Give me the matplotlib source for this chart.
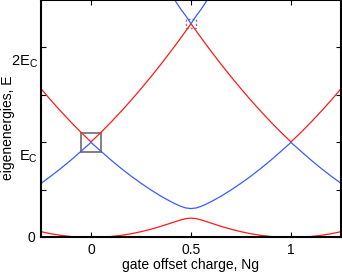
import matplotlib
matplotlib.use("Agg")
import matplotlib.pyplot as plt
from matplotlib.patches import Rectangle
import matplotlib.transforms as mtransforms

plt.rcParams['font.family'] = ['Liberation Sans', 'DejaVu Sans']
plt.rcParams['mathtext.fontset'] = 'custom'
plt.rcParams['mathtext.rm'] = 'Liberation Sans'
plt.rcParams['mathtext.it'] = 'Liberation Sans'

# gate charge and the four lowest levels (in units of E_C)
ng = [-0.25, -0.2, -0.15, -0.1, -0.05, 0.0, 0.05, 0.1, 0.15, 0.2, 0.25, 0.3, 0.35,
      0.4, 0.425, 0.45, 0.475, 0.5, 0.525, 0.55, 0.575, 0.6, 0.65, 0.7, 0.75, 0.8,
      0.85, 0.9, 0.95, 1.0, 1.05, 1.1, 1.15, 1.2, 1.25]
level0 = [0.056, 0.034, 0.017, 0.005, -0.003, -0.005, -0.003, 0.005, 0.017, 0.034, 0.056,
          0.082, 0.113, 0.147, 0.164, 0.181, 0.194, 0.199, 0.194, 0.181, 0.164, 0.147,
          0.113, 0.082, 0.056, 0.034, 0.017, 0.005, -0.003, -0.005, -0.003, 0.005, 0.017,
          0.034, 0.056]
level1 = [0.566, 0.643, 0.725, 0.812, 0.904, 0.998, 0.904, 0.812, 0.725, 0.643, 0.567,
          0.496, 0.430, 0.372, 0.346, 0.323, 0.306, 0.300, 0.306, 0.323, 0.346, 0.372,
          0.430, 0.496, 0.567, 0.643, 0.725, 0.812, 0.904, 0.998, 0.904, 0.812, 0.725,
          0.643, 0.566]
level2 = [1.564, 1.441, 1.324, 1.211, 1.104, 1.003, 1.104, 1.211, 1.324, 1.441, 1.564,
          1.691, 1.823, 1.961, 2.031, 2.103, 2.176, 2.250, 2.176, 2.103, 2.031, 1.961,
          1.823, 1.691, 1.564, 1.441, 1.324, 1.211, 1.104, 1.003, 1.104, 1.211, 1.324,
          1.441, 1.564]
level3 = [3.06, 3.24, 3.42, 3.61, 3.80, 4.00, 3.80, 3.61, 3.42, 3.24, 3.06, 2.89, 2.72,
          2.56, 2.48, 2.40, 2.33, 2.25, 2.33, 2.40, 2.48, 2.56, 2.72, 2.89, 3.06, 3.24,
          3.42, 3.61, 3.80, 4.00, 3.80, 3.61, 3.42, 3.24, 3.06]

ytick_pos = [0, 0.5, 1, 1.5, 2]
xtick_pos = [0, 0.5, 1]
xtick_labels = ['0', '0.5', '1']

fig = plt.figure(figsize=(3.42, 2.72), dpi=100)
ax = fig.add_axes([41/342, 1 - 237/272, 300/342, 237/272])

red = '#ff1a1a'
blue = '#3a5cff'
ax.plot(ng, level0, color=red, lw=0.9)
ax.plot(ng, level1, color=blue, lw=0.9)
ax.plot(ng, level2, color=red, lw=0.9)
ax.plot(ng, level3, color=blue, lw=0.9)

ax.add_patch(Rectangle((-0.05, 0.9), 0.1, 0.2, fill=False, ec='#808080', lw=1.4))
ax.add_patch(Rectangle((0.475, 2.2), 0.05, 0.1, fill=False, ec='#808080', lw=1.0,
                       ls=(0, (1.5, 1.5))))

ax.set_xlim(-0.25, 1.25)
ax.set_ylim(0, 2.5)
ax.set_xticks(xtick_pos)
ax.set_xticklabels(xtick_labels, fontsize=10)
ax.set_yticks(ytick_pos)
ax.set_yticklabels(['0', '', '', '', ''], fontsize=10)
ax.tick_params(direction='in', top=True, right=True, length=3.5, width=0.8, pad=4)

# E_C labels sit a little below their ticks, as in the original
trans = mtransforms.blended_transform_factory(ax.transAxes, ax.transData)
ax.text(-0.01, 0.81, 'E$_\\mathrm{C}$', transform=trans, ha='right', va='baseline', fontsize=10.5)
ax.text(-0.01, 1.81, '2E$_\\mathrm{C}$', transform=trans, ha='right', va='baseline', fontsize=10.5)

for s in ax.spines.values():
    s.set_linewidth(1.5)

ax.set_xlabel('gate offset charge, Ng', fontsize=10, labelpad=1)
ax.set_ylabel('eigenenergies, E', fontsize=10)
ax.yaxis.set_label_coords(-0.088, 0.462)

fig.savefig('out.png', dpi=100)
